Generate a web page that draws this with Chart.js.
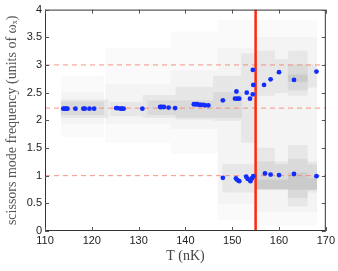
<!DOCTYPE html>
<html lang="en">
<head>
    <meta charset="UTF-8">
    <title>Scissors mode frequency</title>
    <style>
        html, body { margin: 0; padding: 0; background: #fff; }
        #wrap { width: 338px; height: 271px; }
    </style>
</head>
<body>
    <div id="wrap"><canvas id="scissorsChart" width="338" height="271"></canvas></div>

    <script src="https://cdn.jsdelivr.net/npm/chart.js"></script>
    <script>
        // measured points: lower branch (starts near 2.2) and upper branch (near 1)
        const lowT = [113.9, 114.2, 114.5, 114.8, 116.5, 118.2, 118.5, 119.5, 120.5, 125.2, 125.5, 126.1, 126.4, 126.8,
            130.8, 134.6, 134.9, 135.4, 136.4, 137.8, 141.8, 142.2, 142.5, 143.0, 143.3, 143.8, 144.2, 144.9,
            148.0, 150.6, 151.1, 151.5, 150.9, 153.1, 153.8, 154.4, 154.4, 154.5, 156.8, 158.2, 160.0, 163.2, 168.0];
        const lowF = [2.21, 2.21, 2.21, 2.21, 2.21, 2.21, 2.21, 2.21, 2.21, 2.22, 2.22, 2.21, 2.21, 2.21,
            2.21, 2.24, 2.24, 2.24, 2.23, 2.22, 2.29, 2.29, 2.29, 2.28, 2.28, 2.28, 2.27, 2.27,
            2.36, 2.39, 2.39, 2.39, 2.52, 2.50, 2.39, 2.47, 2.91, 2.64, 2.64, 2.74, 2.87, 2.73, 2.88];
        const highT = [148.0, 150.8, 151.1, 151.5, 153.0, 153.3, 153.9, 154.2, 154.5, 157.0, 158.2, 160.0, 163.2, 168.0];
        const highF = [0.96, 0.95, 0.92, 0.90, 0.98, 0.94, 0.90, 0.95, 0.99, 1.04, 1.02, 1.01, 1.03, 0.99];

        // reference levels and critical temperature
        const refLevels = [3, 2.22, 1];
        const criticalT = 155;

        // background spectrum density, as [T from, T to, freq low, freq high] per shade
        const veryFaintCells = [[113.5, 123, 1.7, 2.8], [123, 137, 1.6, 3.3], [137, 147, 1.4, 3.6], [147, 155, 0.2, 3.8], [155, 168.5, 0.1, 3.8]];
        const faintCells = [[113.5, 123, 1.95, 2.5], [123, 137, 1.95, 2.65], [137, 147, 1.85, 2.9], [147, 155, 0.5, 3.3], [155, 168.5, 0.35, 3.5]];
        const lightCells = [[113.5, 124, 2.05, 2.37], [124, 131, 2.08, 2.33], [131, 138, 2.05, 2.45], [138, 146, 2.02, 2.6],
            [146, 152, 2.0, 2.8], [152, 155, 1.6, 3.2], [148, 155, 0.7, 1.2],
            [155, 159, 2.45, 3.25], [159, 162, 2.5, 3.1], [162, 166, 2.45, 3.25], [166, 168.5, 2.6, 3.0],
            [155, 159, 0.75, 1.5], [159, 162, 0.75, 1.25], [162, 166, 0.45, 1.55], [166, 168.5, 0.7, 1.25]];
        const midCells = [[113.5, 123, 2.1, 2.33], [132, 138, 2.1, 2.35], [138, 146, 2.05, 2.35], [146, 152, 2.05, 2.5],
            [162, 166, 2.55, 3.0], [155, 159, 0.78, 1.25], [159, 162, 0.78, 1.2], [162, 166, 0.6, 1.3], [166, 168.5, 0.75, 1.2]];
        const darkCells = [[162, 166, 2.7, 2.82], [155, 162, 0.76, 0.92], [162, 166, 0.75, 1.05], [166, 168.5, 0.75, 0.95]];

        const xTicks = [110, 120, 130, 140, 150, 160, 170];
        const yTicks = [0, 0.5, 1, 1.5, 2, 2.5, 3, 3.5, 4];

        // split each range into 1 nK wide columns
        const toBins = (ranges) => {
            const out = [];
            ranges.forEach(([t0, t1, lo, hi]) => {
                for (let t = t0 + 0.5; t < t1; t += 1) out.push({ x: t, y: [lo, hi] });
            });
            return out;
        };

        const cellSet = (ranges, color, order) => ({
            type: 'bar',
            data: toBins(ranges),
            backgroundColor: color,
            borderWidth: 0,
            barThickness: 5,
            grouped: false,
            order: order,
        });

        const hLine = (y) => ({
            type: 'line',
            data: [{ x: 110, y: y }, { x: 170, y: y }],
            borderColor: 'rgba(246, 130, 110, 0.85)',
            borderWidth: 1,
            borderDash: [5, 4],
            pointRadius: 0,
            fill: false,
            order: 2,
        });

        // frame and inward tick marks, matlab style
        const framePlugin = {
            id: 'frame',
            afterDraw(chart) {
                const { ctx, chartArea: a, scales } = chart;
                ctx.save();
                ctx.strokeStyle = '#333';
                ctx.lineWidth = 1;
                ctx.strokeRect(a.left + 0.5, a.top + 0.5, a.right - a.left - 1, a.bottom - a.top - 1);
                ctx.strokeStyle = '#555';
                ctx.beginPath();
                yTicks.forEach(v => {
                    const y = Math.round(scales.y.getPixelForValue(v)) + 0.5;
                    ctx.moveTo(a.left, y); ctx.lineTo(a.left + 4, y);
                    ctx.moveTo(a.right, y); ctx.lineTo(a.right - 4, y);
                });
                xTicks.forEach(v => {
                    const x = Math.round(scales.x.getPixelForValue(v)) + 0.5;
                    ctx.moveTo(x, a.bottom); ctx.lineTo(x, a.bottom - 4);
                    ctx.moveTo(x, a.top); ctx.lineTo(x, a.top + 4);
                });
                ctx.stroke();
                ctx.restore();
            }
        };

        const ctx = document.getElementById('scissorsChart').getContext('2d');
        const chart = new Chart(ctx, {
            type: 'scatter',
            data: {
                datasets: [
                    {
                        data: lowT.map((t, i) => ({ x: t, y: lowF[i] })),
                        backgroundColor: 'rgb(20, 45, 255)',
                        borderWidth: 0,
                        pointRadius: 2.4,
                        order: 0,
                    },
                    {
                        data: highT.map((t, i) => ({ x: t, y: highF[i] })),
                        backgroundColor: 'rgb(20, 45, 255)',
                        borderWidth: 0,
                        pointRadius: 2.4,
                        order: 0,
                    },
                    {
                        type: 'line',
                        data: [{ x: criticalT, y: 0 }, { x: criticalT, y: 4 }],
                        borderColor: 'rgb(255, 40, 10)',
                        borderWidth: 2.5,
                        pointRadius: 0,
                        fill: false,
                        order: 1,
                    },
                    ...refLevels.map(hLine),
                    cellSet(darkCells, '#cbcbcb', 3),
                    cellSet(midCells, '#dadada', 4),
                    cellSet(lightCells, '#e7e7e7', 5),
                    cellSet(faintCells, '#f4f4f4', 6),
                    cellSet(veryFaintCells, '#fafafa', 7),
                ],
            },
            options: {
                responsive: false,
                animation: false,
                layout: { padding: { top: 7, right: 9, left: 0, bottom: 0 } },
                plugins: {
                    legend: { display: false },
                    tooltip: { enabled: false },
                },
                scales: {
                    x: {
                        type: 'linear',
                        min: 110,
                        max: 170,
                        offset: false,
                        afterBuildTicks: (s) => { s.ticks = xTicks.map(v => ({ value: v })); },
                        afterFit: (s) => { s.height = 40; },
                        grid: { display: false, drawTicks: false },
                        border: { display: false },
                        ticks: { color: '#222', padding: 3, maxRotation: 0, font: { family: 'Liberation Sans', size: 11 },
                            callback: (v) => String(v) },
                        title: {
                            display: true,
                            text: 'T (nK)',
                            color: '#444',
                            padding: { top: 0, bottom: 6 },
                            font: { family: 'Liberation Serif', size: 14 },
                        },
                    },
                    y: {
                        min: 0,
                        max: 4,
                        afterBuildTicks: (s) => { s.ticks = yTicks.map(v => ({ value: v })); },
                        afterFit: (s) => { s.width = 45; },
                        grid: { display: false, drawTicks: false },
                        border: { display: false },
                        ticks: { color: '#222', padding: 3, font: { family: 'Liberation Sans', size: 11 },
                            callback: (v) => String(v) },
                        title: {
                            display: true,
                            text: 'scissors mode frequency (units of ωₓ)',
                            color: '#555',
                            padding: { top: 4, bottom: 0 },
                            font: { family: 'Liberation Serif', size: 14 },
                        },
                    },
                },
            },
            plugins: [framePlugin],
        });
    </script>
</body>
</html>
